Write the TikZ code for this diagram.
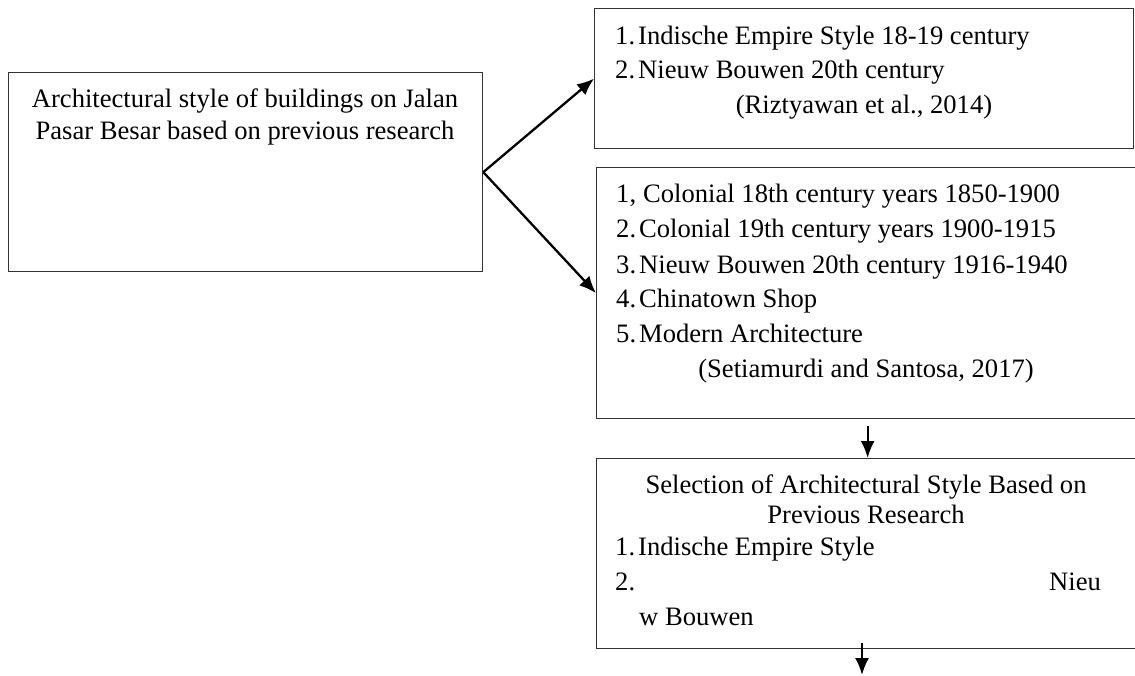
\documentclass[tikz,border=0pt]{standalone}
\usepackage{fontspec}
\setmainfont{Liberation Serif}
\usetikzlibrary{arrows.meta}
\newcommand{\itemno}[1]{\makebox[23pt][l]{#1}}
\begin{document}
\begin{tikzpicture}[x=1pt,y=-1pt,
    box/.style={draw=black!80, line width=1.3pt, inner sep=0pt, anchor=north west},
    txt/.style={inner sep=0pt, font=\fontsize{26.6}{32}\selectfont},
    arr/.style={line width=2.3pt, -{Latex[length=17pt,width=14pt]}}]
    \useasboundingbox (0,0) rectangle (1135,675);

    \node[box, minimum width=474pt, minimum height=199pt] (src) at (8,72) {};
    \node[box, minimum width=539pt, minimum height=140pt] (rtop) at (594,8) {};
    \node[box, minimum width=542pt, minimum height=251pt] (rmid) at (596,167) {};
    \node[box, minimum width=542pt, minimum height=190pt] (rsel) at (596,458) {};
    \coordinate (end) at (862,675);

    \node[txt, anchor=base] (s1) at (245,107) {Architectural style of buildings on Jalan};
    \node[txt, anchor=base] (s2) at (245,139) {Pasar Besar based on previous research};

    \node[txt, anchor=base west] (a1) at (615,44) {\itemno{1.}Indische Empire Style 18-19 century};
    \node[txt, anchor=base west] (a2) at (615,78) {\itemno{2.}Nieuw Bouwen 20th century};
    \node[txt, anchor=base] (a3) at (864,113) {(Riztyawan et al., 2014)};

    \node[txt, anchor=base west] (b1) at (616,202) {\makebox[27pt][l]{1,}Colonial 18th century years 1850-1900};
    \node[txt, anchor=base west] (b2) at (616,237) {\itemno{2.}Colonial 19th century years 1900-1915};
    \node[txt, anchor=base west] (b3) at (616,273) {\itemno{3.}Nieuw Bouwen 20th century 1916-1940};
    \node[txt, anchor=base west] (b4) at (616,307) {\itemno{4.}Chinatown Shop};
    \node[txt, anchor=base west] (b5) at (616,342) {\itemno{5.}Modern Architecture};
    \node[txt, anchor=base] (b6) at (866,377) {(Setiamurdi and Santosa, 2017)};

    \node[txt, anchor=base] (c1) at (866,493) {Selection of Architectural Style Based on};
    \node[txt, anchor=base] (c2) at (866,523) {Previous Research};
    \node[txt, anchor=base west] (c3) at (615,555) {\itemno{1.}Indische Empire Style};
    \node[txt, anchor=base west] (c4) at (615,590) {2.};
    \node[txt, anchor=base west] (c5) at (1049,590) {Nieu};
    \node[txt, anchor=base west] (c6) at (639,625) {w Bouwen};

    \draw[arr] ([yshift=-7pt]rmid.south) -- (rsel.north);
    \draw[arr] (src.east) -- (rtop.west);
    \draw[arr] (src.east) -- (rmid.west);
    \draw[arr] ([yshift=6pt]end |- rsel.south) -- (end);
\end{tikzpicture}
\end{document}
